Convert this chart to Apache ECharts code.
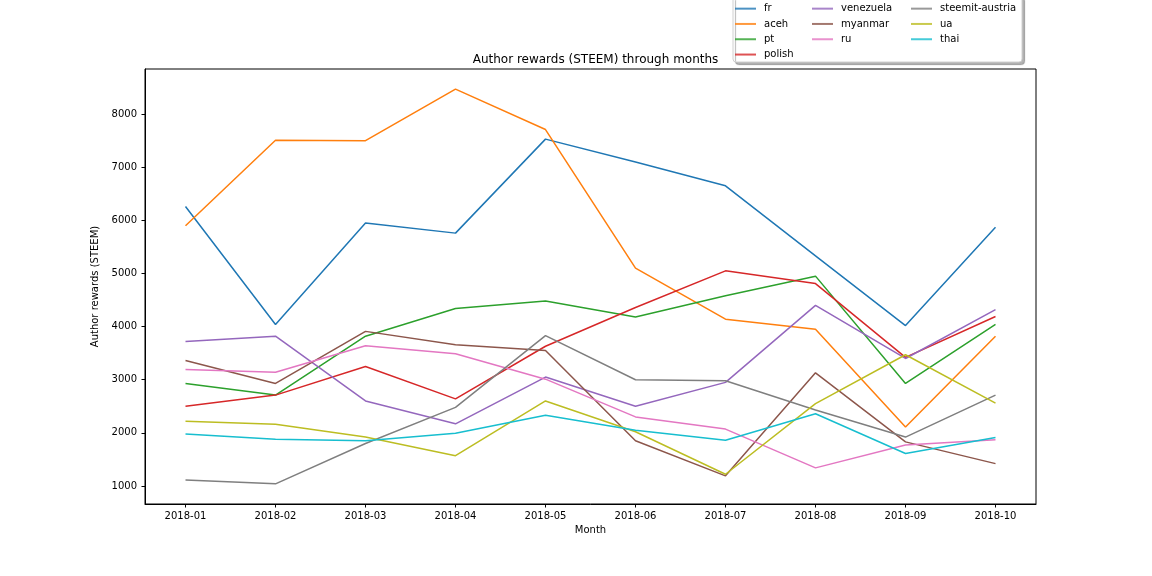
<!DOCTYPE html>
<html>
<head>
<meta charset="utf-8">
<script src="https://cdn.jsdelivr.net/npm/echarts@6/dist/echarts.min.js"></script>
<style>html,body{margin:0;padding:0;background:#fff}#c{width:1152px;height:576px}</style>
</head>
<body>
<div id="c"></div>
<script>
const months = ['2018-01','2018-02','2018-03','2018-04','2018-05','2018-06','2018-07','2018-08','2018-09','2018-10'];
const yTicks = [1000,2000,3000,4000,5000,6000,7000,8000];

const fr        = [6260, 4040, 5950, 5760, 7530, 7100, 6650, 5330, 4020, 5870];
const aceh      = [5900, 7510, 7500, 8470, 7710, 5100, 4140, 3950, 2110, 3820];
const pt        = [2930, 2710, 3820, 4340, 4480, 4180, 4580, 4950, 2930, 4040];
const polish    = [2500, 2710, 3250, 2640, 3630, 4360, 5050, 4810, 3420, 4190];
const venezuela = [3720, 3820, 2600, 2170, 3050, 2500, 2950, 4400, 3400, 4320];
const myanmar   = [3360, 2930, 3910, 3660, 3550, 1850, 1190, 3130, 1830, 1420];
const ru        = [3190, 3140, 3640, 3490, 3010, 2300, 2070, 1340, 1770, 1870];
const steemitAustria = [1110, 1040, 1800, 2480, 3830, 3000, 2980, 2430, 1920, 2710];
const ua        = [2220, 2160, 1920, 1570, 2600, 2020, 1220, 2550, 3470, 2560];
const thai      = [1980, 1880, 1850, 1990, 2330, 2050, 1860, 2360, 1610, 1910];

const seriesDefs = [
  ['fr', fr, '#1f77b4'],
  ['aceh', aceh, '#ff7f0e'],
  ['pt', pt, '#2ca02c'],
  ['polish', polish, '#d62728'],
  ['venezuela', venezuela, '#9467bd'],
  ['myanmar', myanmar, '#8c564b'],
  ['ru', ru, '#e377c2'],
  ['steemit-austria', steemitAustria, '#7f7f7f'],
  ['ua', ua, '#bcbd22'],
  ['thai', thai, '#17becf']
];

const FONT = 'DejaVu Sans';
const chart = echarts.init(document.getElementById('c'), null, {renderer:'canvas'});

function legendCol(left, names) {
  return {
    orient: 'vertical', left: left, top: 1, padding: 0,
    itemWidth: 21, itemHeight: 2, itemGap: 0, icon: 'rect',
    z: 10,
    itemStyle: {opacity: 0.8},
    textStyle: {fontFamily: FONT, fontSize: 10, color: '#000', lineHeight: 15.3, padding: [0,0,0,3]},
    data: names
  };
}

const option = {
  animation: false,
  backgroundColor: '#fff',
  title: {
    text: 'Author rewards (STEEM) through months',
    left: 590.5, top: 49, textAlign: 'center',
    textStyle: {fontFamily: FONT, fontSize: 12, fontWeight: 'normal', color: '#000'}
  },
  graphic: [{
    type: 'rect', z: 1, zlevel: 0,
    shape: {x: 733, y: -5, width: 289, height: 67, r: 3},
    style: {fill: '#fff', stroke: '#d0d0d0', lineWidth: 1,
            shadowColor: 'rgba(0,0,0,0.3)', shadowBlur: 1, shadowOffsetX: 2.5, shadowOffsetY: 2.5}
  }],
  legend: [
    legendCol(735, ['fr','aceh','pt','polish']),
    legendCol(812, ['venezuela','myanmar','ru']),
    legendCol(911, ['steemit-austria','ua','thai'])
  ],
  grid: {left: 145, right: 116, top: 69, bottom: 72, show: true, borderColor: '#000', borderWidth: 1, backgroundColor: 'transparent'},
  xAxis: {
    type: 'value', min: -0.45, max: 9.45,
    name: 'Month', nameLocation: 'middle', nameGap: 21,
    nameTextStyle: {fontFamily: FONT, fontSize: 10, color: '#000'},
    axisLine: {show: true, onZero: false, lineStyle: {color: '#000', width: 1}},
    axisTick: {show: true, length: 3.5, lineStyle: {color: '#000'}, customValues: months.map((m,i)=>i)},
    axisLabel: {fontFamily: FONT, fontSize: 10, color: '#000', margin: 7,
      customValues: months.map((m,i)=>i), formatter: v => months[Math.round(v)] || ''},
    splitLine: {show: false}
  },
  yAxis: {
    type: 'value', min: 660, max: 8850,
    name: 'Author rewards (STEEM)', nameLocation: 'middle', nameGap: 43,
    nameTextStyle: {fontFamily: FONT, fontSize: 10, color: '#000'},
    axisLine: {show: true, onZero: false, lineStyle: {color: '#000', width: 1}},
    axisTick: {show: true, length: 3.5, lineStyle: {color: '#000'}, customValues: yTicks},
    axisLabel: {fontFamily: FONT, fontSize: 10, color: '#000', margin: 8, customValues: yTicks,
      formatter: v => String(v)},
    splitLine: {show: false}
  },
  series: seriesDefs.map(([name, vals, color]) => ({
    name: name, type: 'line',
    data: vals.map((v,i)=>[i, v]),
    showSymbol: false, symbol: 'none',
    color: color,
    itemStyle: {color: color},
    lineStyle: {color: color, width: 1.5},
    emphasis: {disabled: true}
  }))
};
chart.setOption(option);
</script>
</body>
</html>
